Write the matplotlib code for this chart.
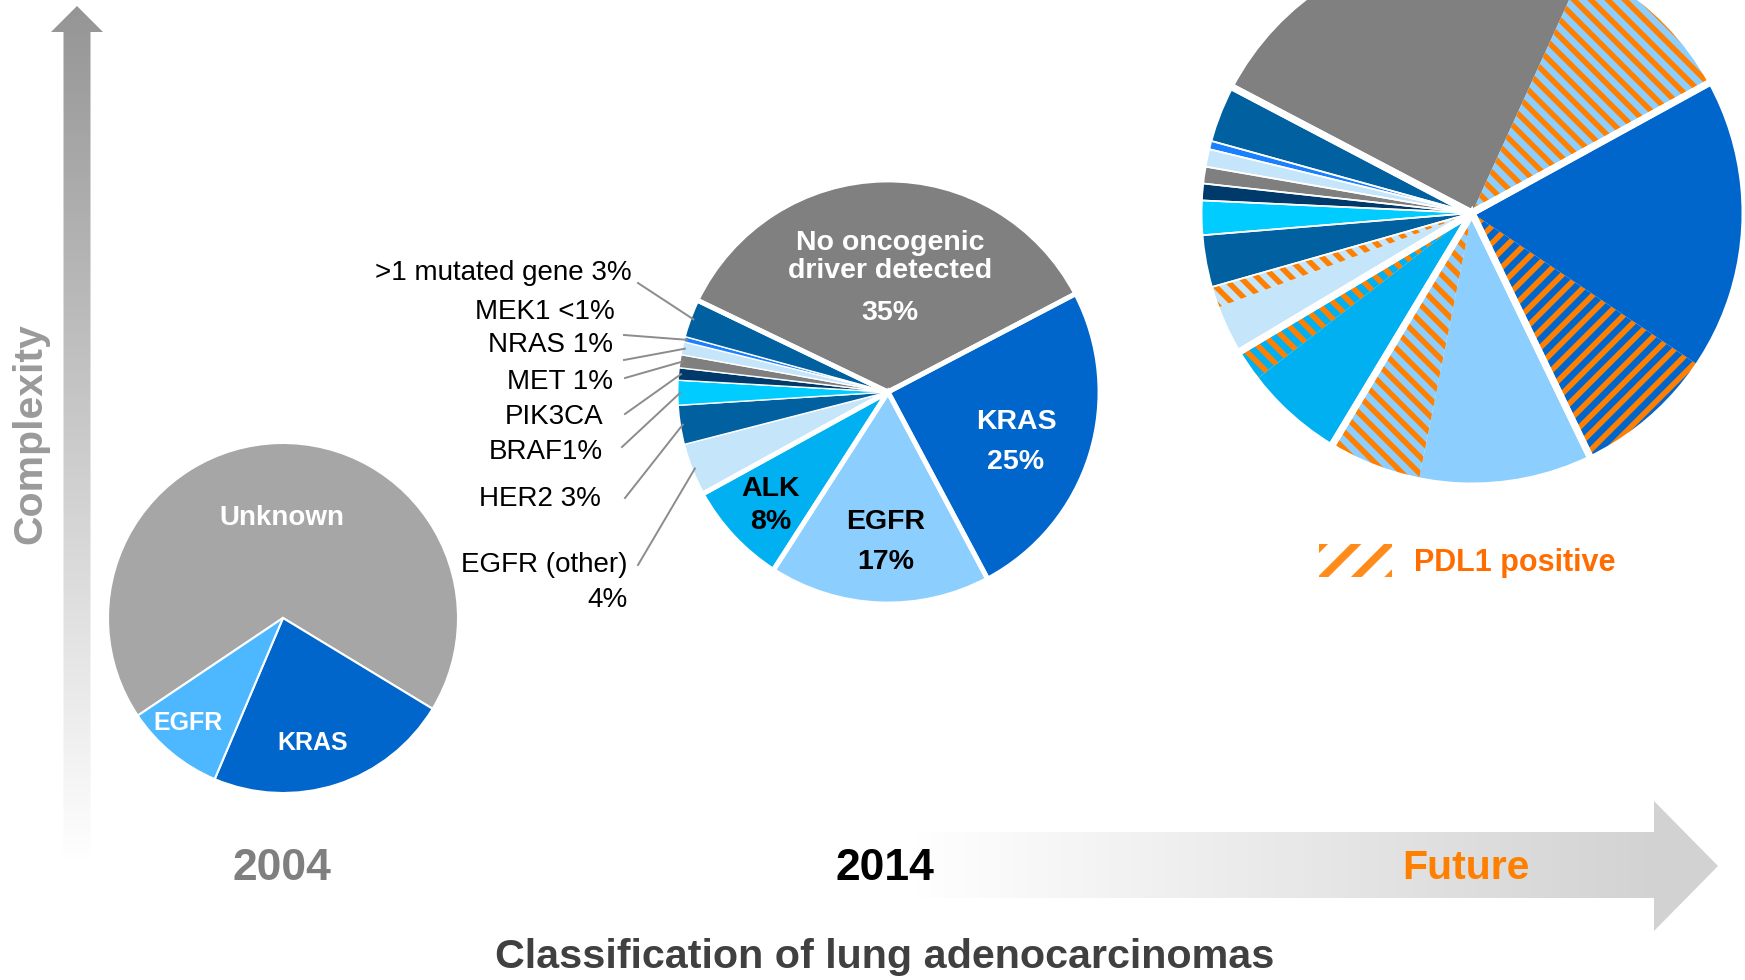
import numpy as np
import matplotlib as mpl, matplotlib.pyplot as plt
from matplotlib.patches import Polygon, Patch
from matplotlib.colors import LinearSegmentedColormap, to_rgb

mpl.rcParams.update({"font.family": ["Liberation Sans", "DejaVu Sans"], "hatch.linewidth": 5.5})
FONT = ["Liberation Sans", "DejaVu Sans"]
ORANGE = "#ff8000"

# ---- data (percent of cases) ----
CAT04 = ["Unknown", "KRAS", "EGFR"]
VAL04 = [68.1, 22.7, 9.2]
COL04 = ["#a6a6a6", "#0066cc", "#4db8ff"]

CAT14 = ["No oncogenic driver detected", "KRAS", "EGFR", "ALK", "EGFR (other)", "HER2",
         "BRAF", "PIK3CA", "MET", "NRAS", "MEK1", ">1 mutated gene"]
VAL14 = [35.2, 24.9, 16.9, 7.9, 4.0, 3.0, 1.9, 0.95, 1.0, 1.0, 0.4, 2.9]
COL14 = ["#808080", "#0066cc", "#8ccfff", "#00b0f0", "#c5e5fb", "#0060a0",
         "#00ccff", "#003a6a", "#7f7f7f", "#c5e5fb", "#1a80ff", "#0060a0"]
GRP14 = [0, 1, 2, 3, 4, 4, 4, 4, 4, 4, 4, 4]
EXT14 = [">1 mutated gene 3%", "MEK1 <1%", "NRAS 1%", "MET 1%", "PIK3CA", "BRAF1%", "HER2 3%", "EGFR (other)"]
EXT_IDX = [11, 10, 9, 8, 7, 6, 5, 4]

CATF = ["No driver", "No driver PDL1+", "KRAS", "KRAS PDL1+", "EGFR", "EGFR PDL1+", "ALK", "ALK PDL1+",
        "EGFR (other)", "EGFR (other) PDL1+", "HER2", "BRAF", "PIK3CA", "MET", "NRAS", "MEK1", ">1 mutated gene"]
VALF = [24.1, 10.2, 17.4, 8.4, 10.3, 5.5, 5.9, 1.9, 2.9, 1.25, 3.1, 2.05, 1.0, 1.0, 1.05, 0.5, 3.4]
PDL1F = [0, 1, 0, 1, 0, 1, 0, 1, 0, 1, 0, 0, 0, 0, 0, 0, 0]
COLF = ["#808080", "#8ccfff", "#0066cc", "#0066cc", "#8ccfff", "#8ccfff", "#00b0f0", "#00b0f0",
        "#c5e5fb", "#c5e5fb", "#0060a0", "#00ccff", "#003a6a", "#7f7f7f", "#c5e5fb", "#1a80ff", "#0060a0"]
STRIPE_DIR = [0, -1, 0, 1, 0, -1, 0, -1, 0, -1, 0, 0, 0, 0, 0, 0, 0]   # 1 = "/", -1 = "\"
GRPF_THICK = [0, 0, 1, 1, 2, 2, 3, 3, 4, 4, 4, 4, 4, 4, 4, 4, 4]
GRPF_THIN = [0, 0, 1, 1, 2, 2, 3, 3, 4, 4, 5, 6, 7, 8, 9, 10, 11]

# ---- canvas in pixel units ----
W, H = 1745, 980
def Y(y): return H - y
fig = plt.figure(figsize=(W / 100, H / 100), dpi=100)
ax = fig.add_axes([0, 0, 1, 1])

def pie(vals, c, r, start, **kw):
    w, _ = ax.pie(vals, center=c, radius=r, startangle=start, counterclock=False, **kw)
    return w

# ---- gradient arrows ----
def grad_arrow(pts, img, extent):
    poly = Polygon([(x, Y(y)) for x, y in pts], closed=True, fc="none", lw=0)
    ax.add_patch(poly)
    im = ax.imshow(img, extent=extent, aspect="auto", origin="upper", zorder=0,
                   cmap=LinearSegmentedColormap.from_list("g", ["#ffffff", "#959595"]), vmin=0, vmax=1)
    im.set_clip_path(poly)

grad_arrow([(63.5, 862), (63.5, 32), (51, 32), (77, 6), (103, 32), (90.5, 32), (90.5, 862)],
           np.linspace(1, 0, 256)[:, None], [51, 103, Y(862), Y(6)])
xs = np.linspace(909, 1718, 600)
grad_arrow([(909, 832), (1654, 832), (1654, 801), (1718, 866), (1654, 931), (1654, 898), (909, 898)],
           (np.clip((xs - 909) / (1654 - 909), 0, 1) * 0.42)[None, :], [909, 1718, Y(931), Y(801)])

# ---- 2004 ----
C04 = (283, Y(618))
pie(VAL04, C04, 175, 213.9, colors=COL04, wedgeprops=dict(edgecolor="white", linewidth=1.5))
kb = dict(ha="center", va="center", color="white", fontweight="bold", family=FONT)
ax.text(282, Y(518), "Unknown", fontsize=20, **kb)
ax.text(313, Y(743), "KRAS", fontsize=18, **kb)
ax.text(188, Y(723), "EGFR", fontsize=18, **kb)

# ---- 2014 ----
C14, R14 = (888, Y(392)), 212
w14 = pie(VAL14, C14, R14, 154.3, colors=COL14, wedgeprops=dict(edgecolor="white", linewidth=1.0))
pie(np.bincount(GRP14, VAL14), C14, R14, 154.3, wedgeprops=dict(fill=False, edgecolor="white", linewidth=3.5))
kw = dict(ha="center", va="center", fontsize=20.5, fontweight="bold", family=FONT)
ax.text(890, Y(257), "No oncogenic\ndriver detected", color="white", linespacing=1.1, **kw)
ax.text(890, Y(313), "35%", color="white", **kw)
ax.text(1016, Y(422), "KRAS", color="white", **kw); ax.text(1016, Y(462), "25%", color="white", **kw)
ax.text(886, Y(522), "EGFR", color="black", **kw); ax.text(886, Y(562), "17%", color="black", **kw)
ax.text(771, Y(489), "ALK", color="black", **kw); ax.text(771, Y(522), "8%", color="black", **kw)

# leader labels for the small slices
TXT_POS = [(632, 273), (615, 312), (613, 345), (613, 382), (603, 417), (603, 452), (601, 499), (628, 565)]
LINE_START = [(638, 283), (624, 335), (624, 360), (625, 378), (625, 414), (622, 447), (625, 498), (638, 565)]
for lab, i, (tx, ty), (lx, ly) in zip(EXT14, EXT_IDX, TXT_POS, LINE_START):
    w = w14[i]; a = np.deg2rad((w.theta1 + w.theta2) / 2)
    ex, ey = C14[0] + 0.98 * R14 * np.cos(a), C14[1] + 0.98 * R14 * np.sin(a)
    ax.plot([lx, ex], [Y(ly), ey], color="#8c8c8c", lw=1.4, zorder=3)
    ax.text(tx, Y(ty), lab, ha="right", va="center", fontsize=20, family=FONT, color="black")
ax.text(628, Y(600), "4%", ha="right", va="center", fontsize=20, family=FONT, color="black")

# ---- future ----
CF, RF = (1472, Y(213)), 273
wf = pie(VALF, CF, RF, 152.3, colors=COLF, wedgeprops=dict(linewidth=0))
# PDL1-positive stripes, clipped to their slice
gx, gy = np.meshgrid(np.arange(CF[0] - RF, CF[0] + RF) + 0.5, np.arange(CF[1] + RF, CF[1] - RF, -1) - 0.5)
PER, SW = 12.0, 5.5
for w, d in zip(wf, STRIPE_DIR):
    if not d: continue
    t = np.mod((gx - d * gy) / np.sqrt(2), PER)
    rgba = np.zeros(gx.shape + (4,)); rgba[..., :3] = to_rgb(ORANGE)
    rgba[..., 3] = np.clip(SW / 2 - np.abs(t - PER / 2) + 0.5, 0, 1)
    im = ax.imshow(rgba, extent=[CF[0] - RF, CF[0] + RF, CF[1] - RF, CF[1] + RF], origin="upper",
                   interpolation="nearest", aspect="auto", zorder=1.5)
    im.set_clip_path(w)
pie(np.bincount(GRPF_THIN, VALF), CF, RF, 152.3, wedgeprops=dict(fill=False, edgecolor="white", linewidth=1.2, zorder=2))
pie(np.bincount(GRPF_THICK, VALF), CF, RF, 152.3, wedgeprops=dict(fill=False, edgecolor="white", linewidth=5, zorder=2))

leg = ax.legend(handles=[Patch(facecolor="white", edgecolor="#ff8c1a", hatch="/", lw=0)], labels=["PDL1 positive"],
                loc="center left", bbox_to_anchor=(1319, Y(561)), bbox_transform=ax.transData, frameon=False,
                borderpad=0, borderaxespad=0, handlelength=2.4, handleheight=1.25, handletextpad=0.7,
                prop=dict(family=FONT, weight="bold", size=22), labelcolor="#ff6d00")

# ---- axis texts ----
ax.text(30, Y(434), "Complexity", rotation=90, ha="center", va="center", color="#9a9a9a", fontsize=29.5, fontweight="bold", family=FONT)
ax.text(282, Y(868), "2004", ha="center", va="center", color="#7f7f7f", fontsize=32, fontweight="bold", family=FONT)
ax.text(885, Y(868), "2014", ha="center", va="center", color="black", fontsize=32, fontweight="bold", family=FONT)
ax.text(1466, Y(868), "Future", ha="center", va="center", color=ORANGE, fontsize=29.5, fontweight="bold", family=FONT)
ax.text(885, Y(957), "Classification of lung adenocarcinomas", ha="center", va="center", color="#404040",
        fontsize=29.7, fontweight="bold", family=FONT)

ax.set_xlim(0, W); ax.set_ylim(0, H); ax.axis("off")
fig.savefig("out.png", dpi=100)
